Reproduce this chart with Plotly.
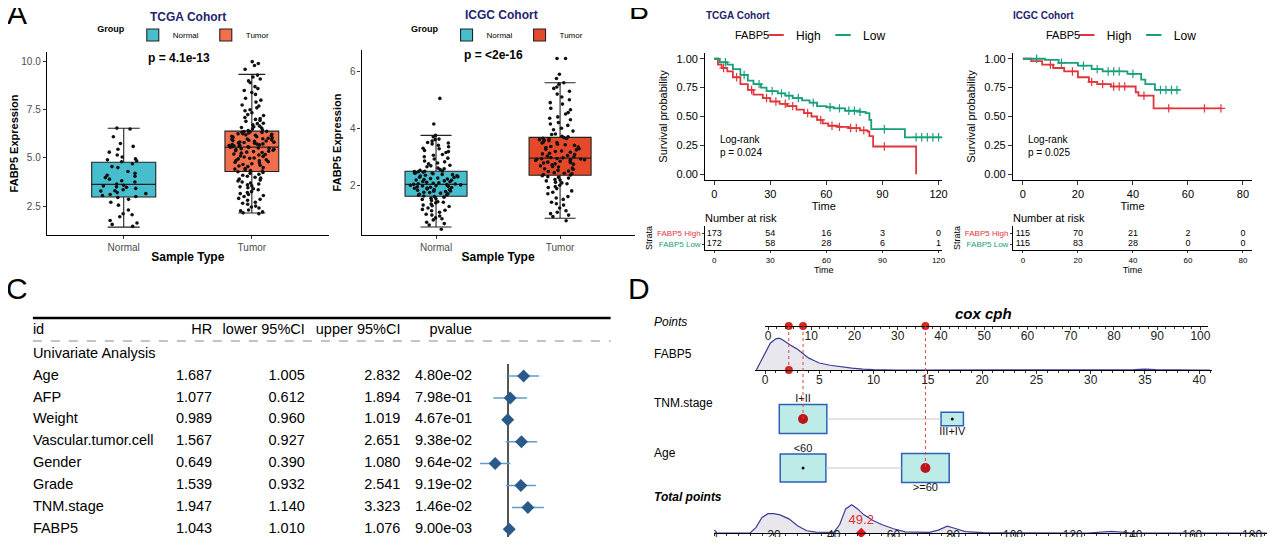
# -*- coding: utf-8 -*-
# %%
import numpy as np
import plotly.graph_objects as go

# the page keeps the default 8px body margin, so the figure is drawn 8px
# smaller than the window and every position below is given in window pixels
OX, OY = 8, 8
W, H = 1280 - 2 * OX, 545 - 2 * OY


def fx(p):
    return min(max((p - OX) / W, 0), 1)


def fy(p):
    return min(max(1 - (p - OY) / H, 0), 1)


BOTTOM = H + OY

# %%
# A: FABP5 expression, normal vs tumor
groups = ["Normal", "Tumor"]

tcga_q1 = [2.97, 4.30]
tcga_median = [3.63, 5.56]
tcga_q3 = [4.78, 6.39]
tcga_lower = [1.41, 2.14]
tcga_upper = [6.54, 9.34]

icgc_q1 = [1.61, 2.35]
icgc_median = [2.03, 2.95]
icgc_q3 = [2.49, 3.68]
icgc_lower = [0.53, 0.84]
icgc_upper = [3.75, 5.60]

tcga_normal = [1.45, 1.55, 1.62, 1.75, 1.95, 2.05, 2.1, 2.3, 2.55, 2.7, 2.85, 2.95,
               3.0, 3.05, 3.1, 3.15, 3.2, 3.28, 3.3, 3.35, 3.42, 3.48, 3.5, 3.55, 3.58,
               3.65, 3.75, 3.82, 3.9, 3.98, 4.05, 4.1, 4.2, 4.3, 4.5, 4.55, 4.7,
               4.8, 4.85, 4.9, 4.95, 5.05, 5.15, 5.3, 5.45, 5.6, 5.75, 6.1, 6.5, 6.55]
tcga_tumor = [2.1, 2.15, 2.2, 2.3, 2.4, 2.5, 2.6, 2.7, 2.8, 2.9, 3.0, 3.1, 3.15, 3.25,
              3.35, 3.45, 3.5, 3.6, 3.7, 3.8, 3.9, 4.0, 4.1, 4.2, 4.25,
              4.32, 4.38, 4.45, 4.5, 4.55, 4.62, 4.7, 4.75, 4.8, 4.85, 4.9, 4.95, 5.0,
              5.05, 5.1, 5.15, 5.2, 5.25, 5.3, 5.35, 5.4, 5.45, 5.48, 5.52, 5.55,
              5.58, 5.6, 5.63, 5.66, 5.7, 5.73, 5.76, 5.8, 5.83, 5.86, 5.9, 5.94, 5.98,
              6.02, 6.05, 6.08, 6.12, 6.15, 6.2, 6.23, 6.26, 6.3, 6.33, 6.36, 6.38,
              6.42, 6.5, 6.58, 6.65, 6.72, 6.8, 6.9, 7.0, 7.1, 7.2, 7.35, 7.5, 7.6,
              7.75, 7.9, 8.1, 8.3, 8.5, 8.7, 8.9, 9.1, 9.3, 9.6, 9.8, 10.0,
              2.25, 2.45, 2.65, 2.85, 3.05, 3.2, 3.4, 3.55, 3.65, 3.75, 3.85, 3.95,
              4.05, 4.15, 4.28, 4.35, 4.42, 4.58, 4.66, 4.78, 4.88, 4.98, 5.08, 5.18,
              5.28, 5.33, 5.38, 5.43, 5.5, 5.54, 5.59, 5.64, 5.68, 5.72, 5.78, 5.82,
              5.88, 5.92, 5.96, 6.0, 6.1, 6.18, 6.25, 6.32, 6.37, 6.45, 6.55, 6.62,
              6.78, 6.95, 7.05, 7.25, 7.45, 7.7, 8.0, 8.4, 8.6, 9.0, 9.2, 9.9]
icgc_normal = [0.45, 0.6, 0.7, 0.78, 0.85, 0.92, 0.98, 1.05, 1.1, 1.15, 1.2, 1.25, 1.3,
               1.34, 1.38, 1.42, 1.46, 1.5, 1.54, 1.58,
               1.62, 1.65, 1.68, 1.7, 1.72, 1.75, 1.78, 1.8, 1.82, 1.85, 1.87, 1.9,
               1.92, 1.94, 1.96, 1.98, 2.0, 2.01, 2.02, 2.03,
               2.05, 2.07, 2.1, 2.12, 2.15, 2.17, 2.2, 2.22, 2.25, 2.27, 2.3, 2.32,
               2.35, 2.37, 2.4, 2.42, 2.44, 2.46, 2.47, 2.48,
               2.5, 2.55, 2.6, 2.65, 2.7, 2.78, 2.85, 2.92, 3.0, 3.08, 3.15, 3.22,
               3.3, 3.4, 3.48, 3.55, 3.62, 3.75, 4.15, 5.05,
               0.65, 0.82, 0.95, 1.12, 1.28, 1.4, 1.52, 1.6, 1.66, 1.74, 1.79, 1.84,
               1.89, 1.93, 1.97, 1.99, 2.04, 2.08, 2.13, 2.18, 2.23, 2.28, 2.33, 2.38,
               2.43, 2.49, 2.52, 2.58, 2.68, 2.75, 2.82, 2.95, 3.05, 3.18, 3.28, 3.35,
               3.45, 3.5, 3.6, 3.7]
icgc_tumor = [0.75, 0.9, 1.05, 1.2, 1.3, 1.4, 1.5, 1.6, 1.7, 1.8, 1.88, 1.95, 2.0, 2.05,
              2.1, 2.15, 2.2, 2.25, 2.3, 2.33,
              2.37, 2.4, 2.44, 2.48, 2.52, 2.56, 2.6, 2.64, 2.68, 2.72, 2.75, 2.78,
              2.81, 2.84, 2.87, 2.89, 2.91, 2.92, 2.93, 2.94,
              2.97, 3.0, 3.04, 3.08, 3.12, 3.16, 3.2, 3.24, 3.28, 3.32, 3.36, 3.4,
              3.44, 3.48, 3.52, 3.56, 3.6, 3.63, 3.65, 3.67,
              3.72, 3.8, 3.9, 4.0, 4.1, 4.2, 4.3, 4.4, 4.55, 4.7, 4.85, 5.0, 5.1,
              5.3, 5.45, 5.6, 5.75, 5.9, 6.45, 6.45,
              0.95, 1.0, 1.1, 1.35, 1.55, 1.75, 1.92, 2.08, 2.18, 2.28, 2.36, 2.42,
              2.5, 2.58, 2.66, 2.74, 2.8, 2.86, 2.9, 2.96, 3.02, 3.1, 3.18, 3.26,
              3.34, 3.42, 3.5, 3.58, 3.64, 3.7, 3.78, 3.95, 4.15, 4.35, 4.5, 4.65,
              4.9, 5.2, 5.4, 5.55]

# %%
# B: Kaplan-Meier curves (step points) and censor times
tcga_high_t = [0, 2, 4, 7, 10, 14, 18, 21, 26, 30, 35, 39, 44, 48, 52, 55, 58, 61, 66,
               72, 78, 82, 83, 85, 108]
tcga_high_s = [1.0, 0.95, 0.92, 0.89, 0.84, 0.78, 0.73, 0.69, 0.66, 0.63, 0.61, 0.59,
               0.56, 0.53, 0.50, 0.47, 0.44, 0.42, 0.41, 0.40, 0.38, 0.37, 0.33, 0.24, 0.0]
tcga_low_t = [0, 3, 7, 10, 14, 18, 21, 25, 28, 34, 38, 42, 47, 51, 55, 60, 64, 70, 78,
              81, 83, 84, 102, 122]
tcga_low_s = [1.0, 0.97, 0.95, 0.91, 0.86, 0.81, 0.78, 0.75, 0.72, 0.70, 0.68, 0.66,
              0.64, 0.62, 0.59, 0.58, 0.57, 0.55, 0.54, 0.53, 0.47, 0.39, 0.32, 0.32]
tcga_high_cens = [5, 12, 20, 28, 33, 38, 42, 50, 57, 63, 67, 73, 76, 80, 91]
tcga_low_cens = [6, 16, 24, 31, 36, 40, 45, 53, 62, 67, 72, 75, 78, 91, 108, 111, 114, 117, 120]

icgc_high_t = [0, 3, 7, 11, 15, 20, 24, 27, 32, 41, 42, 47.5, 72]
icgc_high_s = [1.0, 0.98, 0.95, 0.92, 0.89, 0.84, 0.80, 0.78, 0.76, 0.71, 0.68, 0.57, 0.57]
icgc_low_t = [0, 8, 13, 20, 25, 29, 38, 43, 44.5, 48, 57]
icgc_low_s = [1.0, 0.99, 0.965, 0.94, 0.91, 0.89, 0.87, 0.82, 0.78, 0.73, 0.73]
icgc_high_cens = [10, 18, 25, 29, 33, 35, 37, 44, 53, 66, 72]
icgc_low_cens = [5, 14, 22, 27, 31, 33, 35, 40, 50, 52, 54, 56]

risk_tcga_times = [0, 30, 60, 90, 120]
risk_tcga_high = [173, 54, 16, 3, 0]
risk_tcga_low = [172, 58, 28, 6, 1]
risk_icgc_times = [0, 20, 40, 60, 80]
risk_icgc_high = [115, 70, 21, 2, 0]
risk_icgc_low = [115, 83, 28, 0, 0]

# %%
# C: univariate cox regression
cox_vars = ["Age", "AFP", "Weight", "Vascular.tumor.cell", "Gender", "Grade",
            "TNM.stage", "FABP5"]
cox_hr = [1.687, 1.077, 0.989, 1.567, 0.649, 1.539, 1.947, 1.043]
cox_lower = [1.005, 0.612, 0.960, 0.927, 0.390, 0.932, 1.140, 1.010]
cox_upper = [2.832, 1.894, 1.019, 2.651, 1.080, 2.541, 3.323, 1.076]
cox_p = [4.80e-02, 7.98e-01, 4.67e-01, 9.38e-02, 9.64e-02, 9.19e-02, 1.46e-02, 9.00e-03]

# %%
# D: nomogram
fabp5_grid = [-0.8, 0, 0.5, 1.0, 1.3, 1.6, 2.0, 2.5, 3.0, 3.5, 4.0, 4.5, 5.0, 6.0, 7.0,
              8.0, 9.0, 10.0, 12, 20, 30, 34, 35, 36, 40, 41]
fabp5_dens = [0.0, 0.55, 0.85, 0.98, 1.0, 0.95, 0.85, 0.75, 0.65, 0.5, 0.38, 0.3, 0.22,
              0.15, 0.1, 0.06, 0.03, 0.01, 0, 0, 0, 0.01, 0.03, 0.01, 0, 0]
total_grid = [0, 12, 14, 16, 18, 20, 22, 25, 28, 31, 34, 40, 42, 44, 46, 48, 50, 53, 56,
              60, 64, 72, 75, 78, 81, 84, 90, 125, 133, 140, 185]
total_dens = [0, 0, 0.2, 0.55, 0.68, 0.68, 0.64, 0.5, 0.25, 0.08, 0.03, 0.02, 0.3, 0.85,
              1.0, 0.85, 0.65, 0.45, 0.3, 0.15, 0.04, 0.02, 0.1, 0.24, 0.15, 0.05, 0.01,
              0.0, 0.06, 0.0, 0.0]
total_ticks = [0, 20, 40, 60, 80, 100, 120, 140, 160, 180]
tnm_levels = ["I+II", "III+IV"]
tnm_points = [8.1, 42.6]
tnm_size = [1.0, 0.47]
age_levels = ["<60", ">=60"]
age_points = [8.1, 36.4]
age_size = [0.96, 1.0]
patient_fabp5 = 2.2
patient_points = [4.8, 8.1, 36.4]
patient_total = 49.2

# %%
RED = "#E0353A"
GREEN = "#189E7A"
NAVY = "#23236E"
C_NORMAL = "#46BECD"
C_TUMOR_T = "#F26E4C"
C_TUMOR_I = "#E5492A"
FONT = "Liberation Sans, Arial, sans-serif"


def surv_at(ts, ss, t):
    i = int(np.searchsorted(ts, t, side="right")) - 1
    return ss[i]


fig = go.Figure()

# ---- A: boxplots
box_panels = [
    ("x", "y", "legend", tcga_q1, tcga_median, tcga_q3, tcga_lower, tcga_upper,
     [tcga_normal, tcga_tumor], [C_NORMAL, C_TUMOR_T], [0.5, 0.42]),
    ("x2", "y2", "legend2", icgc_q1, icgc_median, icgc_q3, icgc_lower, icgc_upper,
     [icgc_normal, icgc_tumor], [C_NORMAL, C_TUMOR_I], [0.5, 0.5]),
]
for xa, ya, lg, q1, med, q3, lo, hi, pts, cols, wid in box_panels:
    for i, g in enumerate(groups):
        fig.add_trace(go.Box(
            x=[g], q1=[q1[i]], median=[med[i]], q3=[q3[i]],
            lowerfence=[lo[i]], upperfence=[hi[i]],
            name=g, fillcolor=cols[i], line=dict(color="#222222", width=1.1),
            width=wid[i], xaxis=xa, yaxis=ya, legend=lg, hoverinfo="skip",
        ))
    for i, g in enumerate(groups):
        fig.add_trace(go.Box(
            x=[g] * len(pts[i]), y=pts[i], boxpoints="all", jitter=0.85, pointpos=0,
            fillcolor="rgba(0,0,0,0)", line=dict(width=0, color="rgba(0,0,0,0)"),
            marker=dict(color="#111111", size=3.6), width=wid[i],
            xaxis=xa, yaxis=ya, showlegend=False, hoverinfo="skip",
        ))

# ---- B: KM curves
km_panels = [
    ("x3", "y3", "legend3",
     [(tcga_high_t, tcga_high_s, tcga_high_cens, RED, "High"),
      (tcga_low_t, tcga_low_s, tcga_low_cens, GREEN, "Low")]),
    ("x4", "y4", "legend4",
     [(icgc_high_t, icgc_high_s, icgc_high_cens, RED, "High"),
      (icgc_low_t, icgc_low_s, icgc_low_cens, GREEN, "Low")]),
]
for xa, ya, lg, curves in km_panels:
    for ts, ss, cens, col, nm in curves:
        fig.add_trace(go.Scatter(
            x=ts, y=ss, mode="lines", line=dict(color=col, width=1.8, shape="hv"),
            xaxis=xa, yaxis=ya, showlegend=False, hoverinfo="skip",
        ))
        fig.add_trace(go.Scatter(
            x=cens, y=[surv_at(ts, ss, t) for t in cens], mode="markers",
            marker=dict(symbol="cross-thin", size=6, line=dict(width=1.2, color=col)),
            xaxis=xa, yaxis=ya, showlegend=False, hoverinfo="skip",
        ))
        fig.add_trace(go.Scatter(
            x=[None], y=[None], mode="markers", name=nm,
            marker=dict(symbol="line-ew", size=11, line=dict(width=2, color=col)),
            xaxis=xa, yaxis=ya, legend=lg,
        ))

# risk tables
risk_panels = [
    ("x5", "y5", risk_tcga_times, risk_tcga_high, risk_tcga_low),
    ("x6", "y6", risk_icgc_times, risk_icgc_high, risk_icgc_low),
]
for xa, ya, times, high, low in risk_panels:
    for row, vals in [(1, high), (0, low)]:
        fig.add_trace(go.Scatter(
            x=times, y=[row] * len(times), mode="text", text=[str(v) for v in vals],
            textfont=dict(size=9, color="black"), xaxis=xa, yaxis=ya,
            showlegend=False, hoverinfo="skip",
        ))

# ---- C: table + forest
row_y0, row_dy = 376, 21.9
rows_y = [row_y0 + row_dy * i for i in range(len(cox_vars))]
header_y, uni_y = 330, 354
TFONT = dict(size=14.5, color="black", family=FONT)

table_cols = [
    (33, "middle right", "id", cox_vars),
    (213, "middle left", "HR", [f"{v:.3f}" for v in cox_hr]),
    (306, "middle left", "lower 95%CI", [f"{v:.3f}" for v in cox_lower]),
    (402, "middle left", "upper 95%CI", [f"{v:.3f}" for v in cox_upper]),
    (474, "middle left", "pvalue", [f"{v:.2e}" for v in cox_p]),
]
for xpos, tp, head, vals in table_cols:
    fig.add_trace(go.Scatter(
        x=[xpos] * (len(vals) + 1), y=[header_y] + rows_y, mode="text",
        text=[head] + vals, textposition=tp, textfont=TFONT,
        xaxis="x7", yaxis="y7", showlegend=False, hoverinfo="skip",
    ))
fig.add_trace(go.Scatter(
    x=[33], y=[uni_y], mode="text", text=["Univariate Analysis"],
    textposition="middle right", textfont=TFONT,
    xaxis="x7", yaxis="y7", showlegend=False, hoverinfo="skip",
))

ci_x, ci_y = [], []
for lo, hi, yy in zip(cox_lower, cox_upper, rows_y):
    ci_x += [lo, hi, None]
    ci_y += [yy, yy, None]
fig.add_trace(go.Scatter(
    x=[1, 1], y=[364, BOTTOM], mode="lines", line=dict(color="#2b2b2b", width=1.6),
    xaxis="x8", yaxis="y8", showlegend=False, hoverinfo="skip",
))
fig.add_trace(go.Scatter(
    x=ci_x, y=ci_y, mode="lines", line=dict(color="#5E9CCB", width=1.5),
    xaxis="x8", yaxis="y8", showlegend=False, hoverinfo="skip",
))
fig.add_trace(go.Scatter(
    x=cox_hr, y=rows_y, mode="markers",
    marker=dict(symbol="diamond", size=10, color="#2A5A8A"),
    xaxis="x8", yaxis="y8", showlegend=False, hoverinfo="skip", cliponaxis=False,
))

# ---- D: nomogram
fig.add_trace(go.Scatter(
    x=patient_points, y=[0, 0, 0], mode="markers", marker=dict(color="#D7261E", size=8),
    xaxis="x9", yaxis="y9", showlegend=False, hoverinfo="skip", cliponaxis=False,
))
fig.add_trace(go.Scatter(
    x=fabp5_grid, y=fabp5_dens, mode="lines", fill="tozeroy",
    fillcolor="rgba(215,215,225,0.6)", line=dict(color="#3C3C96", width=1.2),
    xaxis="x10", yaxis="y10", showlegend=False, hoverinfo="skip",
))
fig.add_trace(go.Scatter(
    x=[patient_fabp5], y=[0], mode="markers", marker=dict(color="#D7261E", size=8),
    xaxis="x10", yaxis="y10", showlegend=False, hoverinfo="skip", cliponaxis=False,
))
fig.add_trace(go.Scatter(
    x=total_grid, y=total_dens, mode="lines", fill="tozeroy",
    fillcolor="rgba(215,215,225,0.6)", line=dict(color="#3C3C96", width=1.2),
    xaxis="x11", yaxis="y11", showlegend=False, hoverinfo="skip",
))
fig.add_trace(go.Scatter(
    x=[patient_total], y=[0], mode="markers+text", text=[f"{patient_total}"],
    textposition="top center", textfont=dict(color="#E03030", size=13),
    marker=dict(color="#E01010", size=8, symbol="diamond"),
    xaxis="x11", yaxis="y11", showlegend=False, hoverinfo="skip", cliponaxis=False,
))
# total points tick labels, cut by the lower edge of the figure
fig.add_trace(go.Scatter(
    x=total_ticks, y=[1] * len(total_ticks), mode="text",
    text=[str(t) for t in total_ticks], textposition="bottom center",
    textfont=dict(size=12, color="#222222"),
    xaxis="x11", yaxis="y13", showlegend=False, hoverinfo="skip", cliponaxis=True,
))

shapes = []
nomo_rows = [(419, tnm_levels, tnm_points, tnm_size, 0), (468, age_levels, age_points, age_size, 1)]
half_w, half_h = 5.5, 14.5
for cy, levels, pts, sizes, pick in nomo_rows:
    hw = [half_w * s for s in sizes]
    hh = [half_h * s for s in sizes]
    fig.add_trace(go.Scatter(
        x=[pts[0] + hw[0], pts[1] - hw[1]], y=[cy, cy], mode="lines",
        line=dict(color="#C8C8C8", width=1.2), xaxis="x12", yaxis="y12",
        showlegend=False, hoverinfo="skip",
    ))
    for i, lev in enumerate(levels):
        shapes.append(dict(
            type="rect", xref="x12", yref="y12", layer="below",
            x0=pts[i] - hw[i], x1=pts[i] + hw[i], y0=cy - hh[i], y1=cy + hh[i],
            fillcolor="#BDEBE8", line=dict(color="#2F5FB5", width=1.5),
        ))
        ly = cy - hh[i] - 5 if i == 0 else cy + hh[i] + 6
        fig.add_trace(go.Scatter(
            x=[pts[i]], y=[ly], mode="text", text=[lev],
            textfont=dict(size=11, color="#111111"), xaxis="x12", yaxis="y12",
            showlegend=False, hoverinfo="skip", cliponaxis=False,
        ))
        sel = i == pick
        fig.add_trace(go.Scatter(
            x=[pts[i]], y=[cy], mode="markers",
            marker=dict(color="#C0141C" if sel else "#111111", size=10 if sel else 3),
            xaxis="x12", yaxis="y12", showlegend=False, hoverinfo="skip",
        ))

drop_y = [370, 419, 468]
dx, dy = [], []
for p, yy in zip(patient_points, drop_y):
    dx += [p, p, None]
    dy += [326, yy, None]
fig.add_trace(go.Scatter(
    x=dx, y=dy, mode="lines", line=dict(color="#E04040", width=1, dash="dot"),
    xaxis="x12", yaxis="y12", showlegend=False, hoverinfo="skip",
))

# %%
hidden = dict(visible=False, showgrid=False, zeroline=False)


def axis(**kw):
    d = dict(showline=True, linecolor="black", linewidth=1.2, ticks="outside",
             ticklen=3, tickcolor="#333333", showgrid=False, zeroline=False,
             tickfont=dict(size=10, color="#4D4D4D"))
    d.update(kw)
    return d


layout = dict(
    width=W, height=H, margin=dict(l=0, r=0, t=0, b=0),
    paper_bgcolor="white", plot_bgcolor="rgba(0,0,0,0)",
    font=dict(family=FONT, color="black"), boxmode="overlay",
    shapes=shapes,
)

# A axes
layout["xaxis"] = axis(domain=[fx(47), fx(330)], anchor="y", range=[-0.6, 1.6],
                       type="category", categoryorder="array", categoryarray=groups,
                       title=dict(text="<b>Sample Type</b>", font=dict(size=12), standoff=0))
layout["yaxis"] = axis(domain=[fy(235), fy(52)], anchor="x", range=[1.0, 10.5],
                       tickvals=[2.5, 5, 7.5, 10], ticktext=["2.5", "5.0", "7.5", "10.0"],
                       title=dict(text="<b>FABP5 Expression</b>", font=dict(size=11), standoff=6))
layout["xaxis2"] = axis(domain=[fx(363), fx(637)], anchor="y2", range=[-0.6, 1.6],
                        type="category", categoryorder="array", categoryarray=groups,
                        title=dict(text="<b>Sample Type</b>", font=dict(size=12), standoff=0))
layout["yaxis2"] = axis(domain=[fy(235), fy(50)], anchor="x2", range=[0.25, 6.75],
                        tickvals=[2, 4, 6],
                        title=dict(text="<b>FABP5 Expression</b>", font=dict(size=11), standoff=6))

# B axes
km_tick = dict(size=11, color="black")
layout["xaxis3"] = axis(domain=[fx(708), fx(946)], anchor="y3", range=[-4.8, 122],
                        tickvals=risk_tcga_times, tickfont=km_tick, ticklen=4,
                        title=dict(text="Time", font=dict(size=11), standoff=0))
layout["yaxis3"] = axis(domain=[fy(180), fy(53)], anchor="x3", range=[-0.05, 1.05],
                        tickvals=[0, 0.25, 0.5, 0.75, 1],
                        ticktext=["0.00", "0.25", "0.50", "0.75", "1.00"], tickfont=km_tick,
                        ticklen=4, title=dict(text="Survival probability", font=dict(size=11), standoff=6))
layout["xaxis4"] = axis(domain=[fx(1017), fx(1257)], anchor="y4", range=[-3.6, 83.3],
                        tickvals=risk_icgc_times, tickfont=km_tick, ticklen=4,
                        title=dict(text="Time", font=dict(size=11), standoff=0))
layout["yaxis4"] = axis(domain=[fy(180), fy(53)], anchor="x4", range=[-0.05, 1.05],
                        tickvals=[0, 0.25, 0.5, 0.75, 1],
                        ticktext=["0.00", "0.25", "0.50", "0.75", "1.00"], tickfont=km_tick,
                        ticklen=4, title=dict(text="Survival probability", font=dict(size=11), standoff=6))
strata_ticks = [f'<span style="color:{GREEN}">FABP5 Low</span>',
                f'<span style="color:{RED}">FABP5 High</span>']
for n, dom, rng, times in [(5, [fx(708), fx(946)], [-4.8, 122], risk_tcga_times),
                           (6, [fx(1017), fx(1257)], [-3.6, 83.3], risk_icgc_times)]:
    layout[f"xaxis{n}"] = axis(domain=dom, anchor=f"y{n}", range=rng, tickvals=times,
                               tickfont=dict(size=8, color="black"), ticklen=2,
                               title=dict(text="Time", font=dict(size=9), standoff=0))
    layout[f"yaxis{n}"] = axis(domain=[fy(250), fy(226)], anchor=f"x{n}", range=[-0.55, 1.7],
                               tickvals=[0, 1], ticktext=strata_ticks, ticklen=2,
                               tickfont=dict(size=8), linewidth=1,
                               title=dict(text="Strata", font=dict(size=9), standoff=2))

# C axes
layout["xaxis7"] = dict(hidden, domain=[0, fx(640)], anchor="y7", range=[OX, 640])
layout["yaxis7"] = dict(hidden, domain=[0, fy(300)], anchor="x7", range=[BOTTOM, 300])
layout["xaxis8"] = dict(hidden, domain=[fx(470), fx(560)], anchor="y8", type="log",
                        range=[-0.58, 0.725])
layout["yaxis8"] = dict(hidden, domain=[0, fy(300)], anchor="x8", range=[BOTTOM, 300])

# D axes
nomo_tick = dict(size=12, color="#222222")
nomo_axis = dict(tickfont=nomo_tick, linewidth=1.3, ticklen=3, ticklabelstandoff=-5)
layout["xaxis9"] = axis(domain=[fx(768), fx(1213)], anchor="y9", range=[-0.7, 101.8],
                        tickvals=list(range(0, 101, 10)),
                        minor=dict(dtick=2, ticklen=2, ticks="outside"), **nomo_axis)
layout["yaxis9"] = dict(hidden, domain=[fy(326), fy(318)], anchor="x9", range=[0, 1])
layout["xaxis10"] = axis(domain=[fx(758), fx(1217)], anchor="y10", range=[-0.92, 41.2],
                         tickvals=list(range(0, 41, 5)),
                         minor=dict(dtick=1, ticklen=2, ticks="outside"), **nomo_axis)
layout["yaxis10"] = dict(hidden, domain=[fy(370), fy(335)], anchor="x10", range=[0, 1.1])
layout["xaxis11"] = axis(domain=[fx(717), 1], anchor="y11", range=[0, (1272 - 717) / 3],
                         tickvals=total_ticks, showticklabels=False, linewidth=1.3, ticklen=2,
                         minor=dict(dtick=4, ticklen=2, ticks="outside"))
layout["yaxis11"] = dict(hidden, domain=[fy(533), fy(497)], anchor="x11", range=[0, 1.27])
layout["yaxis13"] = dict(hidden, domain=[0, fy(530)], anchor="x11", range=[0, 1])
layout["xaxis12"] = dict(hidden, domain=[fx(768), fx(1213)], anchor="y12", range=[-0.7, 101.8])
layout["yaxis12"] = dict(hidden, domain=[0, fy(300)], anchor="x12", range=[BOTTOM, 300])

# legends
for key, xc in [("legend", 188), ("legend2", 503)]:
    layout[key] = dict(
        orientation="h", x=fx(xc), xanchor="center", y=fy(35), yanchor="middle",
        title=dict(text="<b>Group</b>", font=dict(size=9), side="left"), font=dict(size=8),
        itemwidth=30, entrywidth=28, bgcolor="rgba(0,0,0,0)",
    )
for key, xl in [("legend3", 759), ("legend4", 1071)]:
    layout[key] = dict(
        orientation="h", x=fx(xl), xanchor="left", y=fy(35), yanchor="middle",
        font=dict(size=12), itemwidth=30, entrywidth=22, bgcolor="rgba(0,0,0,0)",
    )

fig.update_layout(layout)

# %%
# rules of the table
fig.add_shape(type="line", xref="paper", yref="paper", x0=fx(33), x1=fx(613),
              y0=fy(318), y1=fy(318), line=dict(color="black", width=2.5))
fig.add_shape(type="line", xref="paper", yref="paper", x0=fx(33), x1=fx(613),
              y0=fy(341), y1=fy(341), line=dict(color="#888888", width=1, dash="dash"))

ann = [
    (17, 14, "A", 30, None, "center"),
    (642, 6, "B", 30, None, "center"),
    (17, 288, "C", 30, None, "center"),
    (642, 288, "D", 30, None, "center"),
    (189, 17, "<b>TCGA Cohort</b>", 12, NAVY, "center"),
    (503, 15, "<b>ICGC Cohort</b>", 12, NAVY, "center"),
    (707, 15, "<b>TCGA Cohort</b>", 10, NAVY, "left"),
    (1015, 15, "<b>ICGC Cohort</b>", 10, NAVY, "left"),
    (180, 58, "<b>p = 4.1e-13</b>", 12, None, "center"),
    (495, 55, "<b>p = <2e-16</b>", 12, None, "center"),
    (721, 146, "Log-rank<br>p = 0.024", 10, None, "left"),
    (1030, 146, "Log-rank<br>p = 0.025", 10, None, "left"),
    (736, 35, "FABP5", 11, None, "left"),
    (1048, 35, "FABP5", 11, None, "left"),
    (706, 218, "Number at risk", 11, None, "left"),
    (1015, 218, "Number at risk", 11, None, "left"),
    (987, 313, "<b><i>cox cph</i></b>", 15, None, "center"),
    (655, 322, "<i>Points</i>", 12, None, "left"),
    (655, 354, "FABP5", 12, None, "left"),
    (655, 403, "TNM.stage", 12, None, "left"),
    (655, 453, "Age", 12, None, "left"),
    (655, 497, "<b><i>Total points</i></b>", 12, None, "left"),
]
for x, y, t, s, c, xa in ann:
    fig.add_annotation(
        x=fx(x), y=fy(y), xref="paper", yref="paper", text=t, showarrow=False,
        xanchor=xa, yanchor="middle", align="left",
        font=dict(size=s, color=c or "black", family=FONT),
    )

fig.write_html("out.html", config={"displayModeBar": False})
